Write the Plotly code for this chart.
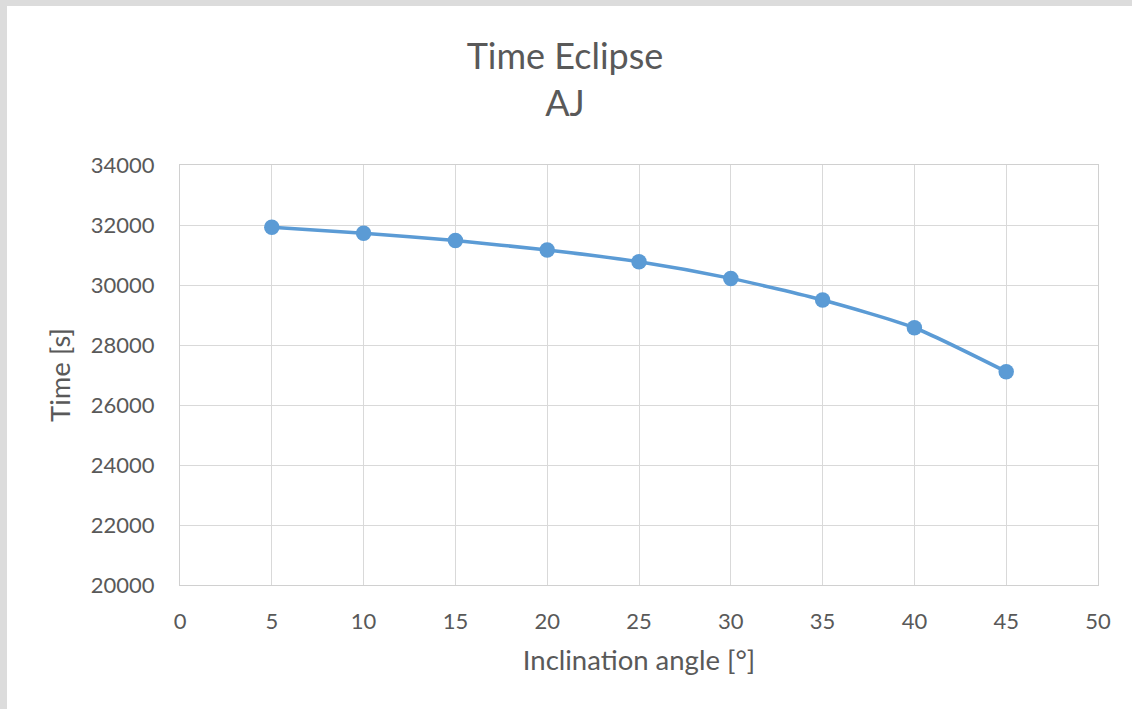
import plotly.graph_objects as go

angles = [5, 10, 15, 20, 25, 30, 35, 40, 45]
times = [31925, 31725, 31480, 31165, 30775, 30220, 29500, 28575, 27110]
x_ticks = [0, 5, 10, 15, 20, 25, 30, 35, 40, 45, 50]
y_ticks = [20000, 22000, 24000, 26000, 28000, 30000, 32000, 34000]

W, H = 1132, 709
L, R, T, B = 180, 34, 165, 124
pw, ph = W - L - R, H - T - B

def px(x):
    return (x - L) / pw

def py(y):
    return (H - B - y) / ph

fig = go.Figure()
fig.add_trace(go.Scatter(
    x=angles, y=times, mode="lines+markers",
    line=dict(color="#5b9bd5", width=3.5, shape="spline", smoothing=0.6),
    marker=dict(color="#5b9bd5", size=15.5),
    showlegend=False,
))

font_fam = "Lato, Open Sans, sans-serif"
fig.update_layout(
    width=W, height=H,
    margin=dict(l=L, r=R, t=T, b=B),
    paper_bgcolor="#dcdcdc",
    plot_bgcolor="white",
    font=dict(family=font_fam, color="#595959"),
    title=dict(text="Time Eclipse<br>AJ", x=565 / W, xref="container", xanchor="center",
               y=1 - 69 / H, yref="container", yanchor="middle",
               font=dict(size=36, color="#595959", family=font_fam)),
    shapes=[dict(type="rect", xref="paper", yref="paper", layer="below",
                 x0=px(7), x1=px(W + 5), y0=py(H + 5), y1=py(6),
                 fillcolor="white", line=dict(width=0))],
)
fig.update_xaxes(
    range=[0, 50], tickvals=x_ticks, ticktext=[str(v) for v in x_ticks],
    showgrid=True, gridcolor="#d9d9d9", gridwidth=1.3,
    showline=True, linecolor="#d0d0d0", linewidth=1.3, mirror=True,
    zeroline=False, ticks="", ticklabelstandoff=16,
    tickfont=dict(size=22, color="#595959"),
    title=dict(text="Inclination angle [°]", standoff=18,
               font=dict(size=27.5, color="#595959")),
)
fig.update_yaxes(
    range=[20000, 34000], tickvals=y_ticks, ticktext=[str(v) for v in y_ticks],
    showgrid=True, gridcolor="#d9d9d9", gridwidth=1.3,
    showline=True, linecolor="#d0d0d0", linewidth=1.3, mirror=True,
    zeroline=False, ticks="", ticklabelstandoff=20,
    tickfont=dict(size=22, color="#595959"),
    title=dict(text="Time [s]", standoff=12,
               font=dict(size=27.5, color="#595959")),
)

fig.write_html("out.html")
